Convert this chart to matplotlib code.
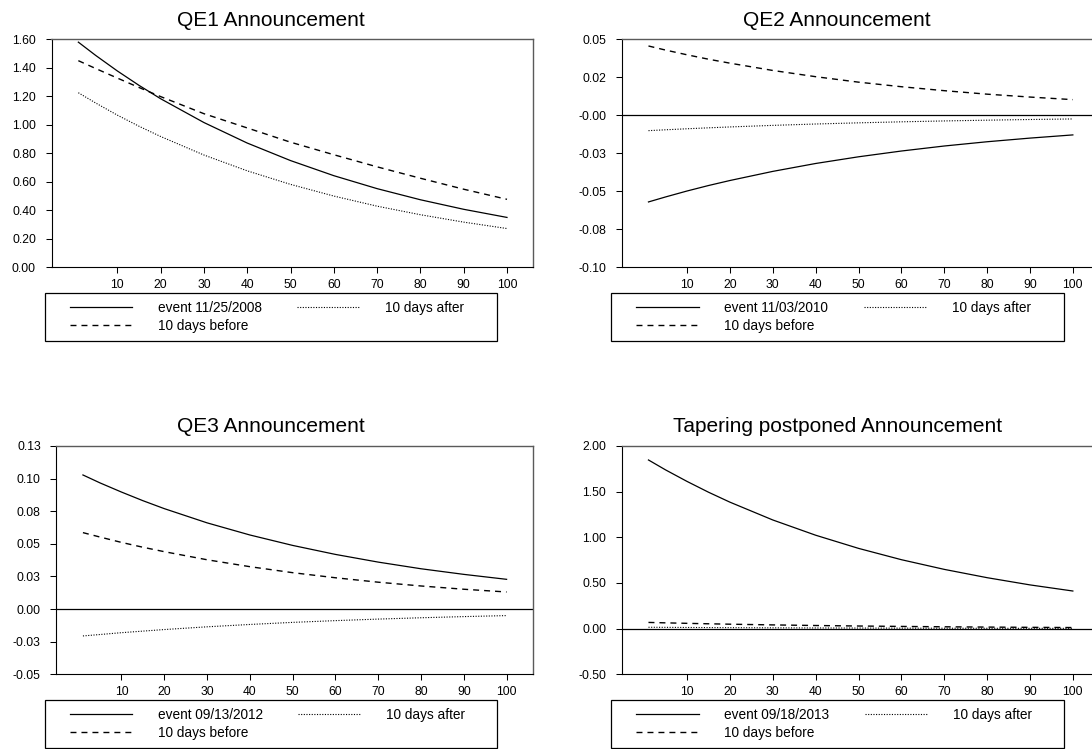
import matplotlib
matplotlib.use("Agg")
import matplotlib.pyplot as plt
from matplotlib.patches import Rectangle

plt.rcParams['font.family'] = ['Liberation Sans', 'DejaVu Sans']
plt.rcParams['lines.scale_dashes'] = False

# Horizon (days after the shock)
days = [1, 5, 10, 15, 20, 30, 40, 50, 60, 70, 80, 90, 100]

# QE1
qe1_event = [1.580, 1.487, 1.378, 1.277, 1.183, 1.016, 0.872, 0.749, 0.643, 0.552, 0.474, 0.407, 0.350]
qe1_before = [1.450, 1.395, 1.328, 1.262, 1.198, 1.078, 0.978, 0.878, 0.790, 0.705, 0.625, 0.548, 0.477]
qe1_after = [1.225, 1.153, 1.068, 0.990, 0.918, 0.788, 0.677, 0.582, 0.500, 0.429, 0.369, 0.317, 0.272]

# QE2
qe2_event = [-0.0570, -0.0537, -0.0498, -0.0462, -0.0429, -0.0369, -0.0317, -0.0273, -0.0235, -0.0202, -0.0174, -0.0150, -0.0129]
qe2_before = [0.0456, 0.0429, 0.0398, 0.0369, 0.0343, 0.0295, 0.0254, 0.0218, 0.0188, 0.0162, 0.0139, 0.0120, 0.0103]
qe2_after = [-0.0101, -0.00953, -0.00886, -0.00824, -0.00766, -0.00663, -0.00573, -0.00496, -0.00429, -0.00371, -0.00321, -0.00277, -0.0024]

# QE3
qe3_event = [0.1028, 0.0967, 0.0897, 0.0831, 0.0770, 0.0661, 0.0568, 0.0488, 0.0419, 0.0360, 0.0309, 0.0266, 0.0228]
qe3_before = [0.0586, 0.0552, 0.0511, 0.0474, 0.0440, 0.0378, 0.0325, 0.0279, 0.0240, 0.0206, 0.0177, 0.0152, 0.0131]
qe3_after = [-0.0206, -0.0195, -0.0181, -0.0169, -0.0157, -0.0136, -0.0118, -0.0102, -0.00886, -0.00768, -0.00666, -0.00577, -0.0050]

# Tapering postponed
tap_event = [1.847, 1.738, 1.612, 1.494, 1.385, 1.190, 1.023, 0.879, 0.755, 0.649, 0.558, 0.479, 0.412]
tap_before = [0.068, 0.0634, 0.0581, 0.0532, 0.0487, 0.0409, 0.0343, 0.0288, 0.0242, 0.0203, 0.0170, 0.0143, 0.012]
tap_after = [0.015, 0.0141, 0.0128, 0.0117, 0.0107, 0.0090, 0.0076, 0.0064, 0.0053, 0.0045, 0.0038, 0.0034, 0.003]

titles = ["QE1 Announcement", "QE2 Announcement", "QE3 Announcement",
          "Tapering postponed Announcement"]
event_dates = ["11/25/2008", "11/03/2010", "09/13/2012", "09/18/2013"]

x_ticks = [10, 20, 30, 40, 50, 60, 70, 80, 90, 100]
x_ticklabels = ["10", "20", "30", "40", "50", "60", "70", "80", "90", "100"]

qe1_yticks = [0.0, 0.2, 0.4, 0.6, 0.8, 1.0, 1.2, 1.4, 1.6]
qe1_yticklabels = ["0.00", "0.20", "0.40", "0.60", "0.80", "1.00", "1.20", "1.40", "1.60"]
qe2_yticks = [-0.1, -0.075, -0.05, -0.025, 0.0, 0.025, 0.05]
qe2_yticklabels = ["-0.10", "-0.08", "-0.05", "-0.03", "-0.00", "0.02", "0.05"]
qe3_yticks = [-0.05, -0.025, 0.0, 0.025, 0.05, 0.075, 0.1, 0.125]
qe3_yticklabels = ["-0.05", "-0.03", "0.00", "0.03", "0.05", "0.08", "0.10", "0.13"]
tap_yticks = [-0.5, 0.0, 0.5, 1.0, 1.5, 2.0]
tap_yticklabels = ["-0.50", "0.00", "0.50", "1.00", "1.50", "2.00"]

W, H = 1092, 749
fig = plt.figure(figsize=(W / 100, H / 100), dpi=100)


def fx(px):
    return px / W


def fy(py):
    return 1 - py / H


panels = [
    dict(series=(qe1_event, qe1_before, qe1_after), yticks=qe1_yticks,
         yticklabels=qe1_yticklabels, zero=False,
         rect=(51.5, 39.3, 533.4, 267.3), title_xy=(270.4, 26.0),
         legend_box=(44.6, 292.7, 497.2, 340.5)),
    dict(series=(qe2_event, qe2_before, qe2_after), yticks=qe2_yticks,
         yticklabels=qe2_yticklabels, zero=True,
         rect=(621.9, 39.3, 1099.0, 267.3), title_xy=(837.3, 26.0),
         legend_box=(611.1, 292.7, 1063.8, 340.5)),
    dict(series=(qe3_event, qe3_before, qe3_after), yticks=qe3_yticks,
         yticklabels=qe3_yticklabels, zero=True,
         rect=(56.4, 446.0, 532.7, 674.3), title_xy=(270.4, 431.7),
         legend_box=(44.6, 699.5, 497.2, 748.0)),
    dict(series=(tap_event, tap_before, tap_after), yticks=tap_yticks,
         yticklabels=tap_yticklabels, zero=True,
         rect=(621.9, 446.0, 1099.0, 674.3), title_xy=(837.3, 431.7),
         legend_box=(611.1, 699.5, 1063.8, 748.0)),
]

solid_kw = dict(color="black", lw=0.9, linestyle="-")
dash_kw = dict(color="black", lw=1.0, linestyle=(0, (4.3, 3.6)))
dot_kw = dict(color="black", lw=0.8, linestyle=(0, (0.8, 1.1)))

for p, title, date in zip(panels, titles, event_dates):
    l, t, r, b = p["rect"]
    ax = fig.add_axes([fx(l), fy(b), fx(r - l), (b - t) / H])
    ev, bef, aft = p["series"]
    if p["zero"]:
        ax.axhline(0, color="black", lw=0.9, zorder=1)
    h_ev, = ax.plot(days, ev, **solid_kw)
    h_bef, = ax.plot(days, bef, **dash_kw)
    h_aft, = ax.plot(days, aft, **dot_kw)

    ax.set_xlim(-5.2, 106.1)
    ax.set_ylim(p["yticks"][0], p["yticks"][-1])
    ax.set_xticks(x_ticks)
    ax.set_xticklabels(x_ticklabels)
    ax.set_yticks(p["yticks"])
    ax.set_yticklabels(p["yticklabels"])
    ax.tick_params(axis="both", direction="out", length=4.3, width=0.75,
                   labelsize=8.7, colors="black")
    ax.tick_params(axis="x", pad=4.3)
    ax.tick_params(axis="y", pad=6.9)
    for side in ("left", "bottom"):
        ax.spines[side].set_color("black")
        ax.spines[side].set_linewidth(0.8)
    for side in ("top", "right"):
        ax.spines[side].set_color("#5a5a5a")
        ax.spines[side].set_linewidth(1.0)

    tx, ty = p["title_xy"]
    fig.text(fx(tx), fy(ty), title, ha="center", va="baseline", fontsize=15)

    bl, bt, br, bb = p["legend_box"]
    fig.patches.append(Rectangle((fx(bl), fy(bb)), fx(br - bl), (bb - bt) / H,
                                 transform=fig.transFigure, fill=False,
                                 edgecolor="black", lw=0.9))
    fig.legend([h_ev, h_bef, h_aft],
               ["event " + date, "10 days before", "10 days after"],
               ncol=2, loc="upper left",
               bbox_to_anchor=(fx(bl + 25), fy(bt + 8.3)),
               frameon=False, borderpad=0, borderaxespad=0,
               handlelength=4.6, handletextpad=1.86, columnspacing=2.63,
               labelspacing=0.3, fontsize=9.8)

fig.savefig("out.png", dpi=100)
